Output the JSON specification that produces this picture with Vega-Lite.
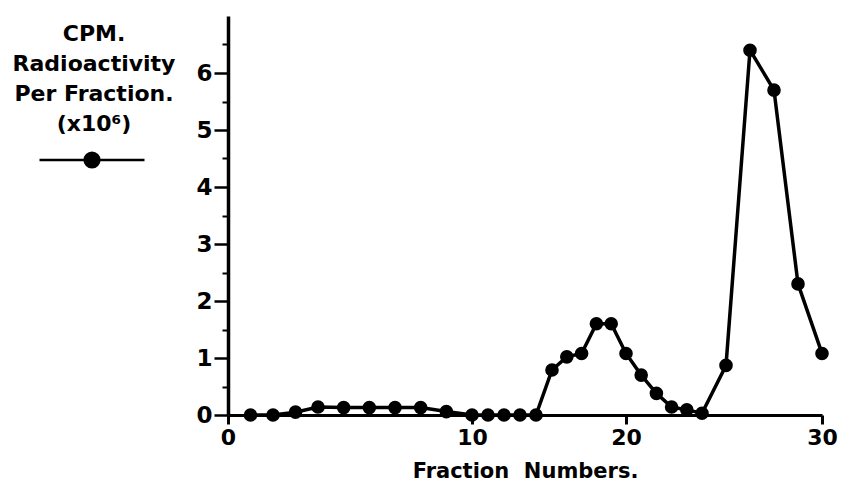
{
  "$schema": "https://vega.github.io/schema/vega-lite/v6.json",
  "width": 594,
  "height": 399,
  "autosize": {"type": "none"},
  "padding": {"left": 228, "top": 16, "right": 21, "bottom": 74},
  "background": "white",
  "config": {"view": {"stroke": null}, "font": "DejaVu Sans"},
  "data": {
    "values": [
      {"fraction": 1, "cpm": 0, "series": "CPM"},
      {"fraction": 2, "cpm": 0, "series": "CPM"},
      {"fraction": 3, "cpm": 0.05, "series": "CPM"},
      {"fraction": 4, "cpm": 0.14, "series": "CPM"},
      {"fraction": 5, "cpm": 0.13, "series": "CPM"},
      {"fraction": 6, "cpm": 0.13, "series": "CPM"},
      {"fraction": 7, "cpm": 0.13, "series": "CPM"},
      {"fraction": 8, "cpm": 0.13, "series": "CPM"},
      {"fraction": 9, "cpm": 0.06, "series": "CPM"},
      {"fraction": 10, "cpm": 0, "series": "CPM"},
      {"fraction": 11, "cpm": 0, "series": "CPM"},
      {"fraction": 12, "cpm": 0, "series": "CPM"},
      {"fraction": 13, "cpm": 0, "series": "CPM"},
      {"fraction": 14, "cpm": 0, "series": "CPM"},
      {"fraction": 15, "cpm": 0.79, "series": "CPM"},
      {"fraction": 16, "cpm": 1.02, "series": "CPM"},
      {"fraction": 17, "cpm": 1.08, "series": "CPM"},
      {"fraction": 18, "cpm": 1.6, "series": "CPM"},
      {"fraction": 19, "cpm": 1.6, "series": "CPM"},
      {"fraction": 20, "cpm": 1.08, "series": "CPM"},
      {"fraction": 21, "cpm": 0.7, "series": "CPM"},
      {"fraction": 22, "cpm": 0.38, "series": "CPM"},
      {"fraction": 23, "cpm": 0.14, "series": "CPM"},
      {"fraction": 24, "cpm": 0.09, "series": "CPM"},
      {"fraction": 25, "cpm": 0.03, "series": "CPM"},
      {"fraction": 26, "cpm": 0.87, "series": "CPM"},
      {"fraction": 27, "cpm": 6.4, "series": "CPM"},
      {"fraction": 28, "cpm": 5.7, "series": "CPM"},
      {"fraction": 29, "cpm": 2.3, "series": "CPM"},
      {"fraction": 30, "cpm": 1.08, "series": "CPM"}
    ]
  },
  "resolve": {"axis": {"y": "independent"}},
  "layer": [
    {
      "mark": {"type": "line", "color": "black", "strokeWidth": 3.5},
      "encoding": {
        "x": {
          "field": "fraction",
          "type": "quantitative",
          "scale": {"type": "linear", "domain": [0, 4, 10, 15, 20, 25, 30], "range": [0, 90, 244, 324, 398, 474, 594], "nice": false},
          "axis": {
            "values": [0, 10, 20, 30],
            "title": "Fraction\u00a0\u00a0Numbers.",
            "titleFont": "DejaVu Sans",
            "titleFontSize": 21,
            "titleFontWeight": "bold",
            "titleColor": "black",
            "titlePadding": 12,
            "labelFont": "DejaVu Sans",
            "labelFontSize": 22,
            "labelFontWeight": "bold",
            "labelColor": "black",
            "labelPadding": 3,
            "labelFlush": false,
            "domainColor": "black",
            "domainWidth": 3,
            "tickColor": "black",
            "tickWidth": 3,
            "tickSize": 9,
            "grid": false
          }
        },
        "y": {
          "field": "cpm",
          "type": "quantitative",
          "scale": {"domain": [0, 7], "nice": false},
          "axis": {
            "orient": "left",
            "values": [0, 1, 2, 3, 4, 5, 6],
            "title": null,
            "labelFont": "DejaVu Sans",
            "labelFontSize": 23,
            "labelFontWeight": "bold",
            "labelColor": "black",
            "labelPadding": 2,
            "labelFlush": false,
            "domainColor": "black",
            "domainWidth": 3.5,
            "tickColor": "black",
            "tickWidth": 2.5,
            "tickSize": 14,
            "grid": false
          }
        }
      }
    },
    {
      "mark": {"type": "point", "filled": true, "size": 185, "opacity": 1},
      "encoding": {
        "x": {"field": "fraction", "type": "quantitative"},
        "y": {
          "field": "cpm",
          "type": "quantitative",
          "axis": {
            "orient": "left",
            "values": [0.5, 1.5, 2.5, 3.5, 4.5, 5.5, 6.5],
            "title": null,
            "labels": false,
            "domain": false,
            "tickColor": "black",
            "tickWidth": 2,
            "tickSize": 6,
            "grid": false
          }
        },
        "color": {
          "field": "series",
          "type": "nominal",
          "scale": {"range": ["black"]},
          "legend": {
            "title": ["CPM.", "Radioactivity", "Per Fraction.", "(x10⁶)"],
            "orient": "none",
            "legendX": -215,
            "legendY": 8,
            "symbolType": "M-1,0H1M0.14,0A0.14,0.14 0 1,1 -0.14,0A0.14,0.14 0 1,1 0.14,0Z",
            "symbolSize": 11025,
            "symbolStrokeWidth": 2.5,
            "symbolStrokeColor": "black",
            "symbolFillColor": "black",
            "symbolOpacity": 1,
            "labelExpr": "''",
            "labelFontSize": 1,
            "labelOffset": 0,
            "titleFont": "DejaVu Sans",
            "titleFontSize": 22,
            "titleFontWeight": "bold",
            "titleColor": "black",
            "titleAnchor": "middle",
            "titleAlign": "center",
            "titleLineHeight": 30,
            "titlePadding": -30,
            "titleLimit": 300
          }
        }
      }
    }
  ]
}
